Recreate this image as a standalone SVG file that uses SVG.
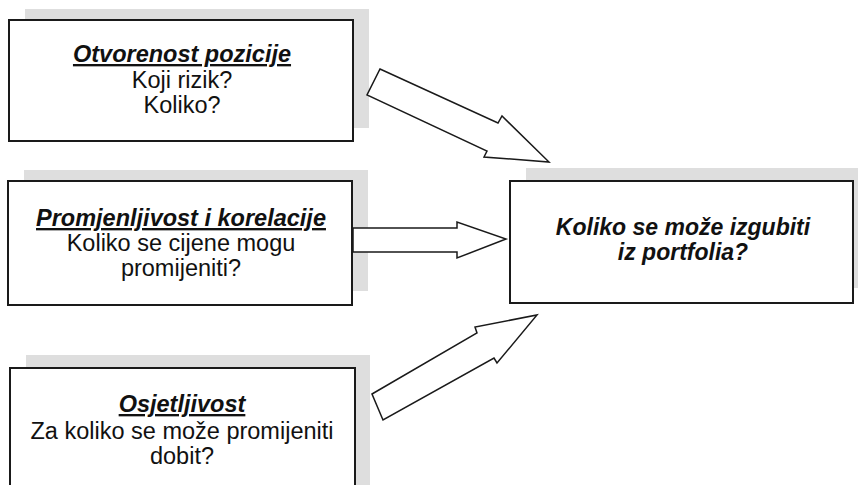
<svg xmlns="http://www.w3.org/2000/svg" width="858" height="485" viewBox="0 0 858 485">
<style>
.shadow{fill:#dedede}
.box{fill:#ffffff;stroke:#1a1a1a;stroke-width:2}
.arrow{fill:#ffffff;stroke:#1a1a1a;stroke-width:1.5;stroke-linejoin:miter}
text{font-family:"Liberation Sans",Arial,sans-serif;fill:#111;text-anchor:middle}
.t{font-size:23.5px;font-weight:bold;font-style:italic;text-decoration:underline}
.b{font-size:23.5px}
.m{font-size:23px;font-weight:bold;font-style:italic}
</style>
<rect width="858" height="485" fill="#ffffff"/>
<g id="node-otvorenost">
<rect class="shadow" x="25" y="9" width="344" height="119"/>
<rect class="box" x="9" y="20" width="344" height="121"/>
<text class="t" x="182" y="62">Otvorenost pozicije</text>
<text class="b" x="182" y="88">Koji rizik?</text>
<text class="b" x="182" y="113">Koliko?</text>
</g>
<g id="node-promjenljivost">
<rect class="shadow" x="24" y="170" width="344" height="121"/>
<rect class="box" x="8" y="181" width="344" height="124"/>
<text class="t" x="181" y="226">Promjenljivost i korelacije</text>
<text class="b" x="181" y="251">Koliko se cijene mogu</text>
<text class="b" x="181" y="276">promijeniti?</text>
</g>
<g id="node-osjetljivost">
<rect class="shadow" x="26" y="355" width="344" height="140"/>
<rect class="box" x="10" y="368" width="345" height="130"/>
<text class="t" x="182" y="412">Osjetljivost</text>
<text class="b" x="182" y="439">Za koliko se može promijeniti</text>
<text class="b" x="182" y="464">dobit?</text>
</g>
<g id="node-portfolio">
<rect class="shadow" x="526" y="168" width="344" height="120"/>
<rect class="box" x="510" y="181" width="343" height="122"/>
<text class="m" x="683" y="235">Koliko se može izgubiti</text>
<text class="m" x="683" y="260">iz portfolia?</text>
</g>
<g id="connectors">
<polygon class="arrow" points="380,69 498,123 502,116 549,162 484,157 487,151 367,95"/>
<polygon class="arrow" points="353,228 457,228 457,222 506,239 457,258 457,252 353,252"/>
<polygon class="arrow" points="372,394 477,333 475,327 537,315 497,363 494,358 383,420"/>
</g>
</svg>
